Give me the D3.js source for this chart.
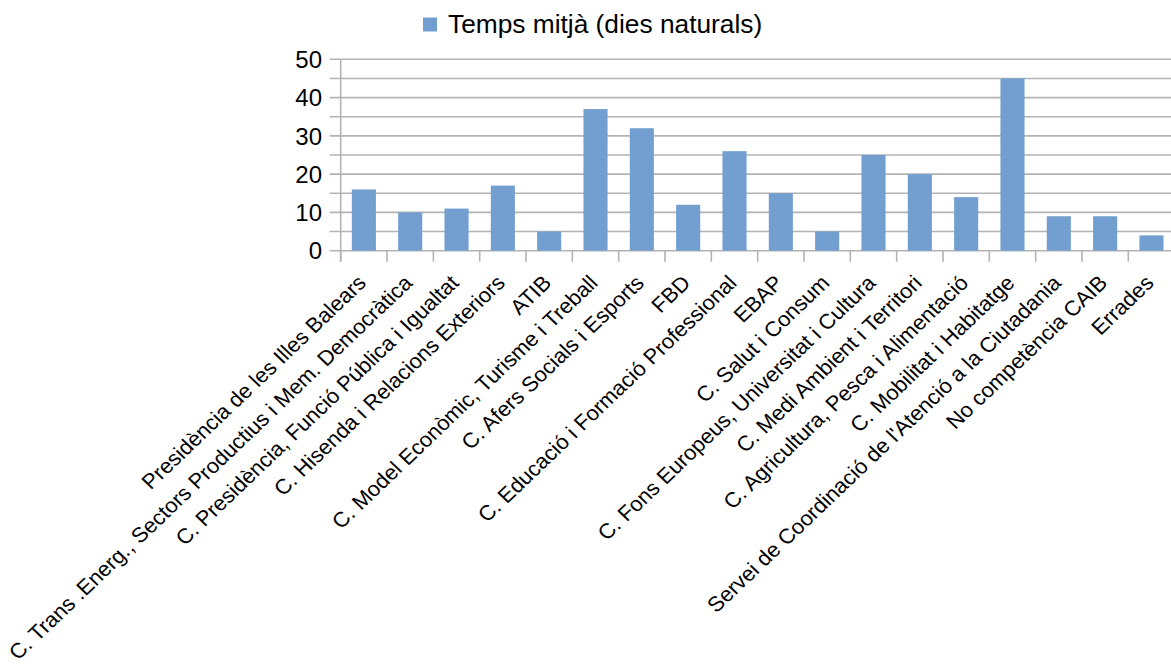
<!DOCTYPE html>
<html>
<head>
<meta charset="utf-8">
<script src="https://cdn.jsdelivr.net/npm/d3@7"></script>
<style>
  html, body { margin: 0; padding: 0; background: #fff; }
  svg { display: block; font-family: "Liberation Sans", Arial, sans-serif; }
</style>
</head>
<body>
<svg id="chart" width="1171" height="665"></svg>
<script>
// Average processing time per department (calendar days)
const seriesName = "Temps mitjà (dies naturals)";
const categories = [
  "Presidència de les Illes Balears",
  "C. Trans .Energ., Sectors Productius i Mem. Democràtica",
  "C. Presidència, Funció Pública i Igualtat",
  "C. Hisenda i Relacions Exteriors",
  "ATIB",
  "C. Model Econòmic, Turisme i Treball",
  "C. Afers Socials i Esports",
  "FBD",
  "C. Educació i Formació Professional",
  "EBAP",
  "C. Salut i Consum",
  "C. Fons Europeus, Universitat i Cultura",
  "C. Medi Ambient i Territori",
  "C. Agricultura, Pesca i Alimentació",
  "C. Mobilitat i Habitatge",
  "Servei de Coordinació de l'Atenció a la Ciutadania",
  "No competència CAIB",
  "Errades"
];
const values = [16, 10, 11, 17, 5, 37, 32, 12, 26, 15, 5, 25, 20, 14, 45, 9, 9, 4];
const yTicks = [0, 10, 20, 30, 40, 50];
const yGridSteps = [0, 5, 10, 15, 20, 25, 30, 35, 40, 45, 50];

const svg = d3.select("#chart");
const gridColor = "#b3b3b3";
const barColor = "#729fcf";

const left = 340.7, bandW = 46.33;
const x = d3.scaleBand()
  .domain(categories)
  .range([left, left + bandW * categories.length])
  .paddingInner(0.48).paddingOuter(0.24);
const y = d3.scaleLinear().domain([0, 50]).range([250.7, 59.3]);

// horizontal grid lines (major and minor) with small ticks left of the axis
svg.append("g").selectAll("line").data(yGridSteps).join("line")
  .attr("x1", left - 11).attr("x2", 1171)
  .attr("y1", d => y(d)).attr("y2", d => y(d))
  .attr("stroke", gridColor).attr("stroke-width", 1.6);

// y axis line and category boundary ticks
svg.append("line")
  .attr("x1", left).attr("x2", left)
  .attr("y1", y(50)).attr("y2", y(0) + 11)
  .attr("stroke", gridColor).attr("stroke-width", 1.6);
svg.append("g").selectAll("line").data(d3.range(categories.length + 1)).join("line")
  .attr("x1", i => left + i * bandW).attr("x2", i => left + i * bandW)
  .attr("y1", y(0)).attr("y2", y(0) + 11)
  .attr("stroke", gridColor).attr("stroke-width", 1.6);

// bars
svg.append("g").selectAll("rect").data(values).join("rect")
  .attr("x", (d, i) => x(categories[i]))
  .attr("width", x.bandwidth())
  .attr("y", d => y(d))
  .attr("height", d => y(0) - y(d))
  .attr("fill", barColor);

// y tick labels
svg.append("g").selectAll("text").data(yTicks).join("text")
  .attr("x", 322).attr("y", d => y(d))
  .attr("dy", "0.36em")
  .attr("text-anchor", "end")
  .attr("font-size", 24)
  .attr("fill", "#000")
  .text(d => d);

// rotated category labels, slightly widened
svg.append("g").selectAll("text").data(categories).join("text")
  .attr("text-anchor", "end")
  .attr("font-size", 21)
  .attr("fill", "#000")
  .attr("transform", d => `translate(${x(d) + x.bandwidth() / 2 + 3.5},${y(0) + 33.5}) scale(1.05,1) rotate(-45)`)
  .text(d => d);

// legend
const lg = svg.append("g");
lg.append("rect").attr("x", 423).attr("y", 17.5).attr("width", 14).attr("height", 14).attr("fill", barColor);
lg.append("text").attr("x", 448).attr("y", 33).attr("font-size", 26.3).attr("fill", "#000").text(seriesName);
</script>
</body>
</html>
